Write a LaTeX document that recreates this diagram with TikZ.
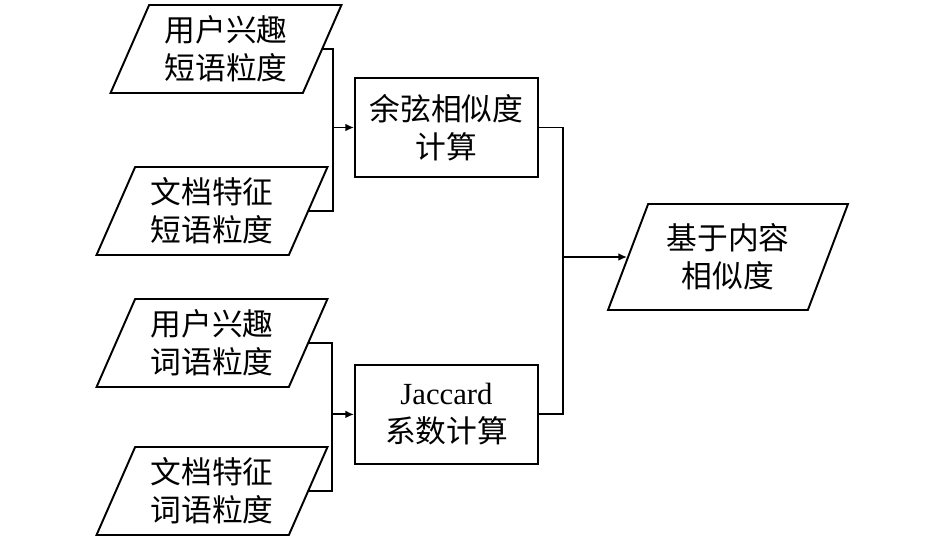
\documentclass[tikz,border=0pt]{standalone}
\usepackage{fontspec}
\setmainfont{Liberation Serif}
\newfontfamily\cjk{Noto Sans CJK SC}
\usetikzlibrary{calc,positioning}
\usetikzlibrary{shapes.geometric}
\usetikzlibrary{arrows.meta}
\def\totalwidth{946}
\def\totalheight{538}
\def\unitpx{0.02cm}
\tikzstyle{txt}                  = [font=\cjk\fontsize{17.5}{21.5}\selectfont,
                                    align=center,inner sep=0pt]
\tikzstyle{data}[88]             = [txt,draw,trapezium,trapezium stretches=true,
                                    trapezium left angle=65,trapezium right angle=115,
                                    minimum width=231*\unitpx,minimum height=#1*\unitpx]
\tikzstyle{procbox}              = [txt,draw,rectangle,
                                    minimum width=183*\unitpx,minimum height=99*\unitpx]

\begin{document}
\begin{tikzpicture}[x=\unitpx,y=-\unitpx,line width=1.1pt,>={Latex[length=5pt,width=4.5pt]}]
        \useasboundingbox (0,0) rectangle (\totalwidth,\totalheight);

        % Inputs
        \node[data] (phraseU) at (226,49)  {用户兴趣\\短语粒度};
        \node[data] (phraseD) at (212,211) {文档特征\\短语粒度};
        \node[data] (wordU)   at (212,343) {用户兴趣\\词语粒度};
        \node[data] (wordD)   at (212,491) {文档特征\\词语粒度};

        % Similarity measures
        \node[procbox] (cos) at (446.5,127.5) {余弦相似度\\计算};
        \node[procbox,below=3.72cm of cos] (jac) {{\rmfamily Jaccard}\\系数计算};

        % Result
        \node[data=106,minimum width=240*\unitpx] (out) at (728,257) {基于内容\\相似度};

        % Junctions
        \coordinate (jA) at (333,0);
        \coordinate (jB) at (332,0);
        \coordinate (jC) at (563,0);

        \draw (phraseU.east) -- (phraseU.east -| jA) -- (phraseD.east -| jA) -- (phraseD.east);
        \draw[->] (cos.west -| jA) -- (cos.west);
        \draw (wordU.east) -- (wordU.east -| jB) -- (wordD.east -| jB) -- (wordD.east);
        \draw[->] (jac.west -| jB) -- (jac.west);
        \draw (cos.east) -- (cos.east -| jC) -- (jac.east -| jC) -- (jac.east);
        \draw[->] (out.west -| jC) -- (out.west);
    \end{tikzpicture}
\end{document}
